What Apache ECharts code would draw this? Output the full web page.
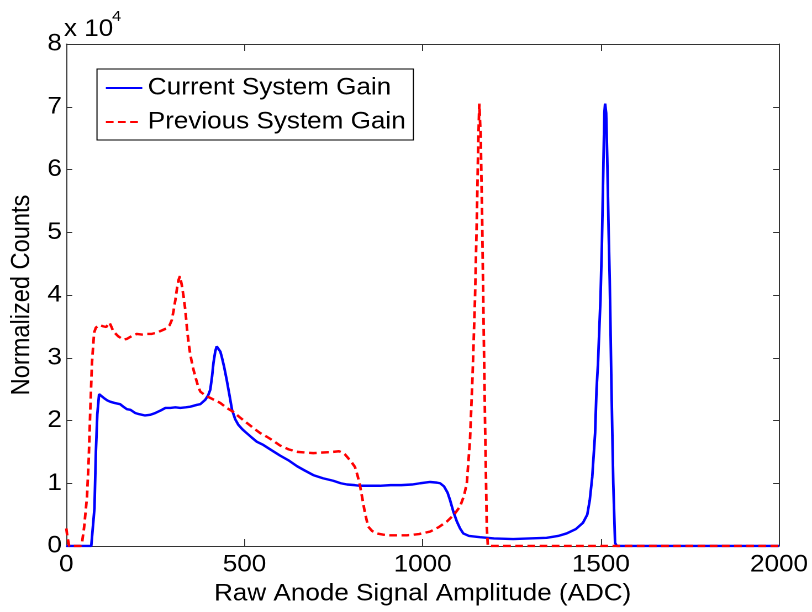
<!DOCTYPE html>
<html>
<head>
<meta charset="utf-8">
<script src="https://cdn.jsdelivr.net/npm/echarts@6/dist/echarts.min.js"></script>
<style>
  html, body { margin: 0; padding: 0; background: #fff; overflow: hidden; }
  #wrap { width: 812px; height: 612px; overflow: hidden; }
  /* the chart is laid out on a narrower canvas and widened horizontally */
  #chart { width: 735px; height: 612px; transform-origin: 0 0; transform: scaleX(1.10476); }
</style>
</head>
<body>
<div id="wrap"><div id="chart"></div></div>
<script>
// Pulse-height spectra: raw anode amplitude (ADC channels) vs normalized counts
const currentAdc = [
  0, 40, 70, 75, 79, 83, 87, 92, 95, 105, 115, 123, 135, 151, 160, 165, 170, 180, 193, 205,
  221, 235, 250, 265, 278, 292, 306, 320, 335, 348, 367, 376, 390, 398, 404, 409, 413, 418, 422, 427,
  432, 436, 443, 450, 458, 465, 474, 483, 494, 506, 520, 535, 553, 575, 600, 625, 648, 670, 693, 720,
  749, 770, 788, 810, 824, 850, 880, 910, 940, 970, 993, 1021, 1040, 1049, 1060, 1070, 1077, 1086, 1096, 1105,
  1114, 1130, 1161, 1200, 1254, 1300, 1348, 1380, 1404, 1430, 1450, 1462, 1469, 1476, 1484, 1488, 1492, 1496, 1499, 1503,
  1507, 1510, 1512, 1515, 1518, 1522, 1525, 1530, 1535, 1540, 1545, 2000
];
const currentCounts = [
  0, 0, 0, 300, 6000, 15000, 21000, 24200, 24100, 23600, 23200, 23000, 22800, 22600, 22200, 22400, 21800, 21700, 21200, 21000,
  20800, 20900, 21200, 21600, 22000, 22000, 22100, 22000, 22100, 22200, 22500, 22600, 23300, 24000, 24900, 27000, 29200, 31000, 31800, 31900,
  31000, 30200, 28500, 26500, 24000, 21700, 20200, 19300, 18600, 18000, 17300, 16600, 16100, 15300, 14400, 13600, 12700, 12000, 11300, 10800,
  10400, 10000, 9800, 9700, 9600, 9600, 9600, 9700, 9700, 9800, 10000, 10200, 10100, 10000, 9500, 8500, 7300, 5500, 3900, 2800,
  2000, 1600, 1400, 1200, 1100, 1200, 1300, 1600, 2000, 2700, 3700, 5000, 7300, 11000, 18000, 25000, 29000, 35000, 39200, 48000,
  60000, 69000, 70500, 69000, 62000, 50000, 42400, 25000, 10000, 500, 0, 0
];

const previousAdc = [
  0, 3, 8, 40, 44, 50, 58, 63, 67, 72, 75, 78, 83, 93, 104, 112, 121, 126, 132, 146,
  160, 170, 185, 198, 212, 226, 240, 254, 270, 282, 290, 296, 301, 306, 311, 315, 319, 324, 329, 334,
  339, 343, 348, 355, 362, 369, 376, 390, 404, 418, 432, 450, 468, 487, 507, 525, 544, 563, 580, 600,
  624, 648, 670, 693, 720, 749, 765, 774, 782, 791, 800, 810, 817, 824, 831, 838, 847, 858, 872, 890,
  909, 956, 990, 1021, 1045, 1068, 1088, 1105, 1116, 1124, 1133, 1140, 1147, 1152, 1156, 1159, 1163, 1167, 1170, 1175,
  1180, 1183, 2000
];
const previousCounts = [
  2800, 1500, 0, 0, 500, 3000, 7800, 14000, 21200, 29200, 31600, 34000, 34800, 35200, 35000, 34900, 35600, 35000, 34200, 33400,
  32900, 33000, 33500, 33800, 33700, 33800, 33800, 34000, 34400, 34700, 35200, 36000, 37500, 39200, 41200, 42400, 43000, 41600, 39800, 37600,
  34500, 32400, 30500, 28500, 27000, 25600, 24600, 24000, 23600, 23200, 22800, 22000, 21400, 20500, 19600, 18800, 18000, 17400, 16800, 16000,
  15400, 15000, 14900, 14800, 14900, 15000, 15100, 14900, 14600, 14000, 13400, 12600, 11300, 9700, 7500, 5300, 3100, 2400, 2000, 1800,
  1700, 1700, 1900, 2300, 3000, 3900, 5000, 6300, 8000, 10000, 17000, 27000, 39500, 52000, 64000, 70500, 65000, 52000, 39500, 20000,
  3000, 0, 0
];

const xTicks = [0, 500, 1000, 1500, 2000];
const yTicks = [0, 1, 2, 3, 4, 5, 6, 7, 8];   // in units of 10^4

const pairs = (xs, ys) => xs.map((x, i) => [x, ys[i]]);

const FONT = '"Liberation Sans", Arial, Helvetica, sans-serif';
const FS = 23.6;
const AXIS = '#333';

const chart = echarts.init(document.getElementById('chart'), null, { devicePixelRatio: 2 });

const baseX = {
  type: 'value', min: xTicks[0], max: xTicks[xTicks.length - 1], interval: 500,
  axisLine: { show: true, onZero: false, lineStyle: { color: AXIS, width: 1 } },
  axisTick: { show: true, inside: true, length: 7, lineStyle: { color: AXIS } },
  splitLine: { show: false }
};
const baseY = {
  type: 'value', min: 0, max: yTicks[yTicks.length - 1] * 1e4, interval: 1e4,
  axisLine: { show: true, onZero: false, lineStyle: { color: AXIS, width: 1 } },
  axisTick: { show: true, inside: true, length: 5.4, lineStyle: { color: AXIS } },
  splitLine: { show: false }
};

chart.setOption({
  animation: false,
  backgroundColor: '#fff',
  textStyle: { fontFamily: FONT },
  grid: { left: 59.7, right: 29.9, top: 44, bottom: 66, containLabel: false },
  legend: {
    orient: 'vertical', left: 87.8, top: 69,
    padding: [6, 7, 5, 7],
    itemGap: 8, itemWidth: 33, itemHeight: 14,
    borderColor: '#000', borderWidth: 1, backgroundColor: '#fff',
    itemStyle: { opacity: 0 },
    textStyle: { fontFamily: FONT, fontSize: FS, color: '#000', lineHeight: 26 },
    data: ['Current System Gain', 'Previous System Gain']
  },
  xAxis: [
    Object.assign({}, baseX, {
      position: 'bottom',
      axisLabel: { show: true, margin: 7, fontFamily: FONT, fontSize: FS, color: '#000', formatter: v => String(v) },
      name: 'Raw Anode Signal Amplitude (ADC)', nameLocation: 'middle', nameGap: 36,
      nameTextStyle: { fontFamily: FONT, fontSize: FS, color: '#000' }
    }),
    Object.assign({}, baseX, { position: 'top', axisLabel: { show: false } })
  ],
  yAxis: [
    Object.assign({}, baseY, {
      position: 'left',
      axisLabel: {
        show: true, margin: 4, fontFamily: FONT, fontSize: FS, color: '#000',
        formatter: v => String(Math.round(v / 1e4))
      },
      name: 'Normalized Counts', nameLocation: 'middle', nameGap: 26,
      nameTextStyle: { fontFamily: FONT, fontSize: FS, color: '#000' }
    }),
    Object.assign({}, baseY, { position: 'right', axisLabel: { show: false } })
  ],
  graphic: [
    { type: 'text', left: 57.9, top: 17.5, style: { text: 'x 10', font: FS + 'px ' + FONT, fill: '#000' } },
    { type: 'text', left: 101.4, top: 9.5, style: { text: '4', font: '15px ' + FONT, fill: '#000' } }
  ],
  series: [
    {
      name: 'Current System Gain', type: 'line', xAxisIndex: 0, yAxisIndex: 0,
      data: pairs(currentAdc, currentCounts),
      symbol: 'none', showSymbol: false, smooth: false,
      lineStyle: { color: '#0000ff', width: 2.4 }, itemStyle: { color: '#0000ff' }
    },
    {
      name: 'Previous System Gain', type: 'line', xAxisIndex: 0, yAxisIndex: 0,
      data: pairs(previousAdc, previousCounts),
      symbol: 'none', showSymbol: false, smooth: false,
      lineStyle: { color: '#ff0000', width: 2.4, type: [7, 4] }, itemStyle: { color: '#ff0000' }
    }
  ]
});
</script>
</body>
</html>
